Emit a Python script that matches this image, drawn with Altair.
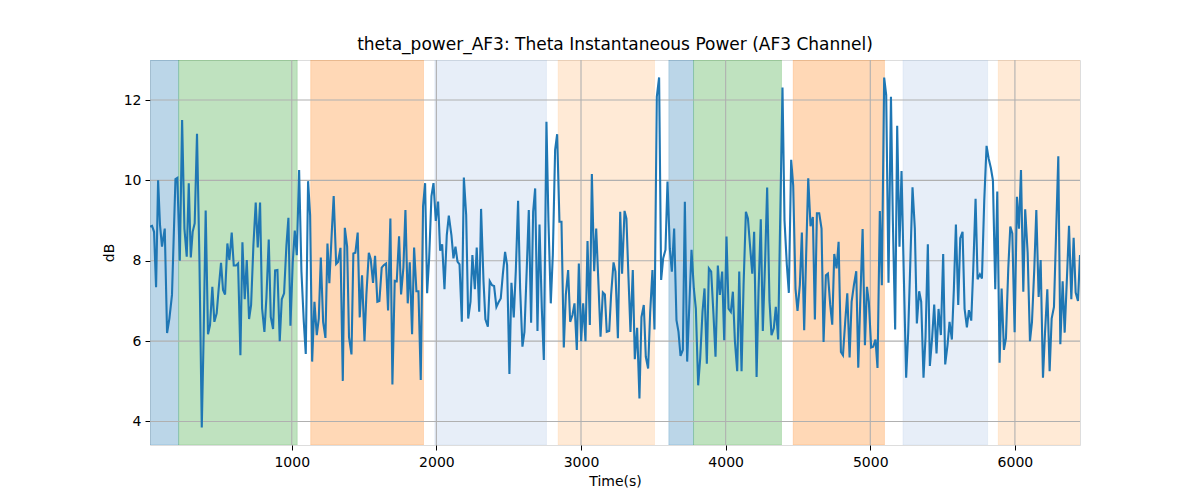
import altair as alt
import pandas as pd

TITLE = "theta_power_AF3: Theta Instantaneous Power (AF3 Channel)"
X_TITLE = "Time(s)"
Y_TITLE = "dB"
X_TICKS = [1000, 2000, 3000, 4000, 5000, 6000]
Y_TICKS = [4, 6, 8, 10, 12]

# (time, dB) pairs, segment by segment
seg1 = [(20, 8.85), (34, 8.87), (48, 8.72), (62, 7.34), (76, 10.0), (89, 8.9), (103, 8.35),
        (122, 8.8), (138, 6.2), (154, 6.56), (172, 7.15), (196, 10.03), (209, 10.06), (226, 8.0),
        (242, 11.5), (258, 8.8), (274, 8.1), (288, 9.93), (302, 8.08), (315, 8.72), (329, 8.93),
        (345, 11.16), (362, 7.97), (378, 3.85), (391, 6.15), (405, 9.25), (421, 6.17), (435, 6.4),
        (451, 7.35), (465, 6.48), (481, 6.69), (495, 7.31), (511, 7.95), (525, 7.27), (539, 7.16),
        (555, 8.43), (569, 8.02), (585, 8.7), (599, 7.88), (615, 7.88), (629, 7.93), (645, 5.65),
        (659, 8.46), (675, 7.04), (689, 8.02), (705, 6.55), (719, 6.9), (735, 8.39), (751, 9.45),
        (765, 8.33), (781, 9.45), (795, 6.81), (811, 6.23), (825, 7.09), (841, 8.53), (855, 6.6),
        (871, 6.3), (885, 7.76), (901, 7.77), (917, 6.0), (931, 7.04), (947, 7.19), (963, 8.37),
        (977, 9.07), (991, 6.38), (1007, 7.97), (1021, 8.75), (1035, 8.14), (1051, 10.26), (1067, 7.73)]

seg2 = [(1083, 6.5), (1097, 5.68), (1113, 9.98), (1127, 9.14), (1141, 5.49), (1157, 6.98),
        (1173, 6.15), (1187, 6.56), (1201, 8.08), (1217, 6.48), (1233, 6.08), (1247, 8.43),
        (1260, 7.44), (1277, 8.72), (1290, 9.61), (1307, 7.92), (1320, 7.97), (1337, 8.32),
        (1353, 5.01), (1367, 8.82), (1383, 8.35), (1396, 6.1), (1413, 5.67), (1426, 8.18),
        (1440, 8.2), (1456, 8.7), (1470, 6.59), (1486, 7.64), (1503, 6.0), (1516, 7.15),
        (1533, 8.2), (1546, 8.04), (1562, 7.45), (1576, 8.12), (1592, 6.98), (1606, 7.0),
        (1622, 7.83), (1636, 7.89), (1652, 7.93), (1666, 6.76), (1682, 9.05), (1696, 4.92),
        (1712, 7.5), (1726, 7.49), (1742, 8.61), (1756, 7.16), (1772, 7.83), (1786, 9.26),
        (1802, 6.94), (1816, 7.96), (1832, 6.17), (1846, 8.33), (1862, 7.24), (1876, 7.24),
        (1892, 5.03), (1908, 9.36), (1922, 9.93), (1936, 7.19), (1950, 8.06), (1966, 9.61),
        (1980, 9.93), (1996, 8.99), (2012, 9.47), (2026, 8.25), (2040, 8.41), (2056, 7.29),
        (2072, 8.64), (2086, 9.12)]

seg3 = [(2104, 8.64), (2118, 8.06), (2132, 8.35), (2146, 7.98), (2160, 7.91), (2176, 6.48),
        (2190, 10.07), (2206, 9.14), (2220, 6.56), (2236, 6.98), (2249, 8.14), (2266, 7.29),
        (2279, 8.33), (2296, 6.73), (2309, 9.29), (2326, 7.48), (2339, 6.54), (2356, 6.36),
        (2369, 7.49), (2385, 7.39), (2399, 7.37), (2415, 6.85), (2429, 6.96), (2445, 7.06),
        (2459, 7.64), (2475, 8.22), (2489, 7.89), (2505, 5.18), (2519, 7.45), (2535, 6.59),
        (2549, 7.73), (2565, 9.49), (2579, 7.31), (2595, 5.86), (2609, 6.23), (2625, 7.81),
        (2639, 9.26), (2655, 6.46), (2669, 9.22), (2683, 9.8), (2699, 6.25), (2713, 8.9),
        (2729, 6.81), (2743, 5.53), (2761, 11.46), (2775, 8.97), (2791, 6.94), (2805, 8.14),
        (2821, 10.76), (2835, 11.15), (2851, 8.97), (2865, 8.97), (2881, 5.84), (2895, 7.15),
        (2911, 7.77), (2925, 6.48), (2941, 6.65), (2955, 6.94), (2971, 5.78), (2985, 7.93),
        (3001, 6.0), (3015, 6.94), (3031, 6.0), (3045, 8.49), (3061, 6.4), (3075, 10.16),
        (3091, 7.74), (3105, 8.8), (3121, 7.39), (3135, 6.11), (3151, 7.21)]

seg4 = [(3165, 7.16), (3178, 6.23), (3195, 6.25), (3208, 7.15), (3225, 7.96), (3238, 7.73),
        (3255, 6.07), (3271, 9.22), (3284, 7.68), (3301, 9.24), (3314, 9.05), (3328, 7.6),
        (3342, 6.23), (3358, 7.77), (3372, 5.55), (3388, 6.33), (3404, 4.57), (3418, 6.6),
        (3434, 6.9), (3448, 5.61), (3464, 5.32), (3478, 6.7), (3494, 7.77), (3508, 6.29),
        (3524, 12.08), (3540, 12.56), (3554, 7.52), (3568, 8.06), (3584, 8.27), (3598, 9.97),
        (3614, 8.3), (3628, 7.73), (3644, 8.8), (3660, 6.52), (3674, 6.23), (3688, 5.63),
        (3704, 5.78), (3718, 9.47), (3734, 5.49), (3750, 7.0), (3764, 8.27), (3780, 7.31),
        (3794, 6.81), (3810, 4.9), (3824, 5.57), (3840, 6.73), (3854, 7.31), (3870, 5.44),
        (3884, 7.81), (3900, 7.73), (3916, 6.65), (3930, 5.61), (3946, 7.88), (3960, 7.15),
        (3976, 7.73), (3990, 6.02), (4006, 8.6), (4020, 6.81), (4036, 6.73), (4050, 7.23),
        (4064, 6.0), (4080, 5.25), (4094, 7.73), (4110, 5.25), (4124, 7.4), (4140, 9.22),
        (4154, 9.05), (4170, 8.31), (4184, 7.68), (4197, 8.72)]

seg5 = [(4214, 5.11), (4227, 7.2), (4243, 9.03), (4257, 6.25), (4273, 8.0), (4287, 9.82),
        (4303, 7.0), (4317, 6.15), (4333, 6.32), (4347, 6.85), (4363, 6.04), (4377, 9.0),
        (4393, 12.31), (4407, 9.0), (4423, 7.9), (4437, 7.2), (4453, 10.51), (4467, 9.88),
        (4483, 7.3), (4497, 6.75), (4513, 7.4), (4527, 8.7), (4543, 6.27), (4557, 8.2),
        (4571, 10.05), (4587, 8.86), (4603, 9.09), (4617, 6.54), (4631, 9.18), (4647, 9.18),
        (4663, 8.8), (4677, 5.98), (4693, 7.64), (4707, 7.68), (4723, 6.9), (4737, 6.41),
        (4751, 8.17), (4767, 7.81), (4781, 8.47), (4797, 5.73), (4811, 5.65), (4827, 6.5),
        (4841, 7.19), (4857, 5.59), (4871, 6.98), (4887, 7.4), (4903, 7.74), (4917, 5.34),
        (4930, 6.9), (4947, 8.79), (4963, 5.9), (4977, 7.35), (4990, 6.98), (5006, 5.84),
        (5020, 5.86), (5036, 6.04), (5050, 5.33), (5066, 9.24), (5080, 7.39), (5096, 12.56),
        (5110, 12.12), (5126, 7.45), (5143, 12.08), (5156, 9.0), (5172, 6.29)]

seg6 = [(5186, 11.36), (5202, 8.35), (5216, 10.23), (5232, 7.6), (5248, 5.09), (5262, 6.2),
        (5278, 8.1), (5292, 9.83), (5308, 8.8), (5322, 6.44), (5338, 7.24), (5352, 6.98),
        (5368, 5.09), (5382, 6.1), (5398, 8.41), (5412, 5.38), (5428, 6.1), (5442, 6.91),
        (5458, 5.69), (5472, 6.8), (5488, 6.15), (5504, 8.17), (5518, 5.42), (5534, 5.9),
        (5548, 6.48), (5564, 6.04), (5578, 7.3), (5592, 8.9), (5608, 6.9), (5622, 8.56),
        (5638, 8.72), (5652, 6.81), (5668, 6.34), (5682, 6.77), (5698, 6.51), (5712, 7.8),
        (5728, 9.54), (5742, 7.54), (5758, 7.66), (5772, 7.56), (5788, 9.5), (5804, 10.86),
        (5818, 10.55), (5834, 10.3), (5848, 10.0), (5864, 7.29), (5878, 9.72), (5894, 5.46),
        (5908, 7.31), (5924, 5.78), (5938, 6.07), (5954, 7.8), (5968, 8.85), (5982, 8.68),
        (5998, 6.22), (6014, 9.59), (6028, 8.8), (6042, 10.26), (6058, 7.23), (6071, 9.28),
        (6088, 8.2), (6104, 6.0), (6118, 6.48), (6134, 7.8), (6148, 9.26), (6164, 7.1),
        (6178, 8.02), (6194, 5.09), (6208, 6.2), (6224, 7.29), (6240, 5.25), (6254, 6.56),
        (6270, 6.85), (6284, 8.6), (6300, 10.6), (6314, 5.92), (6330, 7.49), (6344, 6.21),
        (6360, 7.6), (6374, 8.87), (6390, 7.04), (6406, 8.57), (6420, 7.21), (6436, 7.0),
        (6450, 8.14)]

# shaded phases
span_start = [0, 218, 1131, 1989, 2842, 3607, 3778, 4467, 5226, 5885]
span_end = [218, 1038, 1911, 2761, 3508, 3778, 4386, 5098, 5811, 6500]
span_color = ["#1f77b4", "#2ca02c", "#ff7f0e", "#aec7e8", "#ffbb78",
              "#1f77b4", "#2ca02c", "#ff7f0e", "#aec7e8", "#ffbb78"]

df = pd.DataFrame(seg1 + seg2 + seg3 + seg4 + seg5 + seg6, columns=["t", "v"])
spans_df = pd.DataFrame({"start": span_start, "end": span_end, "color": span_color})
xgrid_df = pd.DataFrame({"g": X_TICKS})
ygrid_df = pd.DataFrame({"g": Y_TICKS})

vmin, vmax = df["v"].min(), df["v"].max()
pad = 0.05 * (vmax - vmin)
x_scale = alt.Scale(domain=[float(df["t"].min()), float(df["t"].max())], nice=False, zero=False)
y_scale = alt.Scale(domain=[float(vmin - pad), float(vmax + pad)], nice=False, zero=False)

FONT = "DejaVu Sans"
x_axis = alt.Axis(values=X_TICKS, format="d", grid=False, domain=False, title=X_TITLE,
                  tickSize=5, tickColor="black", tickWidth=1, labelPadding=5,
                  labelFont=FONT, labelFontSize=14, labelColor="black",
                  titleFont=FONT, titleFontSize=14, titleColor="black",
                  titleFontWeight="normal", titlePadding=5, labelFlush=False)
y_axis = alt.Axis(values=Y_TICKS, format="d", grid=False, domain=False, title=Y_TITLE,
                  tickSize=5, tickColor="black", tickWidth=1, labelPadding=4,
                  labelFont=FONT, labelFontSize=14, labelColor="black",
                  titleFont=FONT, titleFontSize=14, titleColor="black",
                  titleFontWeight="normal", titlePadding=7, labelFlush=False)

spans = alt.Chart(spans_df).mark_rect(clip=True, fillOpacity=0.3, strokeOpacity=0.25,
                                      strokeWidth=0.8).encode(
    x=alt.X("start:Q", scale=x_scale, axis=x_axis),
    x2="end:Q",
    fill=alt.Fill("color:N", scale=None),
    stroke=alt.Stroke("color:N", scale=None),
)

xgrid = alt.Chart(xgrid_df).mark_rule(color="#b0b0b0", strokeWidth=1.1).encode(
    x=alt.X("g:Q", scale=x_scale, axis=x_axis)
)
ygrid = alt.Chart(ygrid_df).mark_rule(color="#b0b0b0", strokeWidth=1.1).encode(
    y=alt.Y("g:Q", scale=y_scale, axis=y_axis)
)

line = alt.Chart(df).mark_line(color="#1f77b4", strokeWidth=2.1, clip=True).encode(
    x=alt.X("t:Q", scale=x_scale, axis=x_axis),
    y=alt.Y("v:Q", scale=y_scale, axis=y_axis),
    order="t:Q",
)

chart = alt.layer(spans, xgrid, ygrid, line).properties(
    width=930,
    height=385,
    title=alt.TitleParams(TITLE, font=FONT, fontSize=17, fontWeight="normal", color="black",
                          anchor="middle", frame="group", baseline="alphabetic", offset=9,
                          dy=17),
    autosize=alt.AutoSizeParams(type="none"),
    padding={"left": 142, "top": 52, "right": 112, "bottom": 47},
).configure_view(stroke="black", strokeWidth=1.1).configure(background="white")

chart.save("out.html", embed_options={"renderer": "svg", "actions": False})
